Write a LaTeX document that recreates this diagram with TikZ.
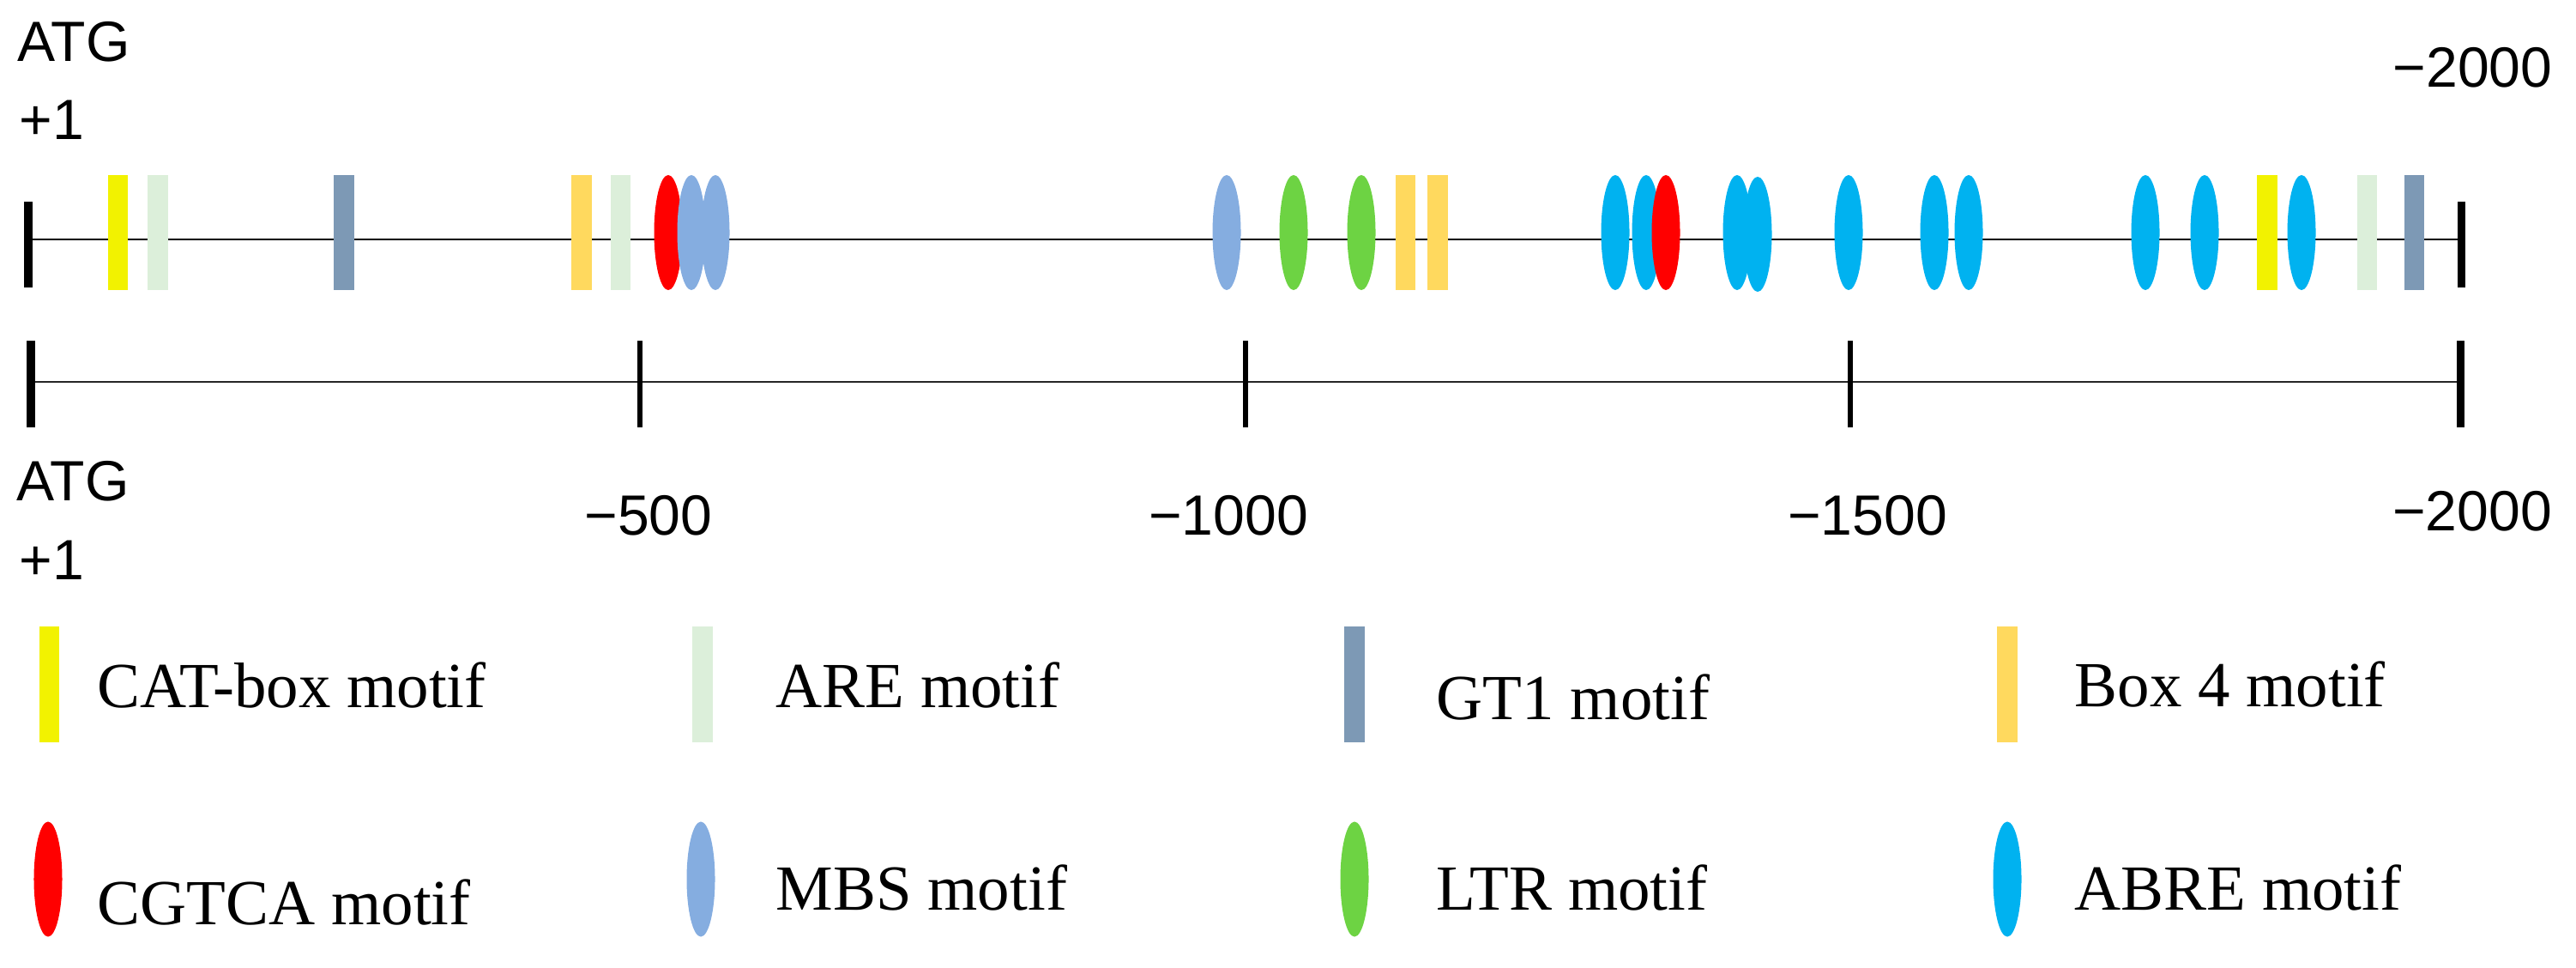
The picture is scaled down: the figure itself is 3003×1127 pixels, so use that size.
\documentclass[tikz,border=0pt]{standalone}
\usepackage{fontspec}
\setmainfont{Liberation Serif}
\newfontfamily\arialf{Liberation Sans}
\usetikzlibrary{shapes.geometric,backgrounds}
\definecolor{catc}{HTML}{F2F200}
\definecolor{arec}{HTML}{DCEFDA}
\definecolor{gtc}{HTML}{7D99B5}
\definecolor{boxc}{HTML}{FFD95E}
\definecolor{cgc}{HTML}{FF0000}
\definecolor{mbsc}{HTML}{85ADE0}
\definecolor{ltrc}{HTML}{6DD343}
\definecolor{abrec}{HTML}{00B2F0}
\begin{document}
\begin{tikzpicture}[x=0.01cm,y=-0.01cm,
 rbox/.style={rectangle,inner sep=0,outer sep=0,minimum width=0.235cm,minimum height=1.34cm,fill=#1},
 ebox/.style={ellipse,inner sep=0,outer sep=0,minimum width=0.33cm,minimum height=1.34cm,fill=#1},
 endbar/.style={rectangle,inner sep=0,outer sep=0,minimum width=0.09cm,minimum height=1.0cm,fill=black},
 midtick/.style={endbar,minimum width=0.055cm},
 num/.style={font=\arialf\fontsize{18.8}{22}\selectfont,inner sep=0},
 leg/.style={font=\fontsize{21.3}{25}\selectfont,inner sep=0,anchor=base west}]
\useasboundingbox (0,0) rectangle (3003,1127);

% main track
\coordinate (ml) at (33,279);
\coordinate (mr) at (2869,279);
\draw[line width=0.5pt] (ml) -- (mr);
\node[endbar] (bl) at (33,285) {};
\node[endbar] (br) at (2869,285) {};

\node[rbox=catc] (m1) at (137.5,271) {};
\node[rbox=arec] (m2) at (184,271) {};
\node[rbox=gtc] (m3) at (401,271) {};
\node[rbox=boxc] (m4) at (678,271) {};
\node[rbox=arec] (m5) at (723.5,271) {};
\node[ebox=cgc] (m6) at (779,271) {};
\node[ebox=mbsc] (m7) at (806,271) {};
\node[ebox=mbsc] (m8) at (834,271) {};
\node[ebox=mbsc] (m9) at (1430,271) {};
\node[ebox=ltrc] (m10) at (1508,271) {};
\node[ebox=ltrc] (m11) at (1587,271) {};
\node[rbox=boxc] (m12) at (1638.5,271) {};
\node[rbox=boxc] (m13) at (1676,271) {};
\node[ebox=abrec] (m14) at (1883,271) {};
\node[ebox=abrec] (m15) at (1919,271) {};
\node[ebox=cgc] (m16) at (1942,271) {};
\node[ebox=abrec] (m17) at (2025,271) {};
\node[ebox=abrec] (m18) at (2049,273) {};
\node[ebox=abrec] (m19) at (2155,271) {};
\node[ebox=abrec] (m20) at (2255,271) {};
\node[ebox=abrec] (m21) at (2295,271) {};
\node[ebox=abrec] (m22) at (2501,271) {};
\node[ebox=abrec] (m23) at (2570,271) {};
\node[rbox=catc] (m24) at (2643,271) {};
\node[ebox=abrec] (m25) at (2683,271) {};
\node[rbox=arec] (m26) at (2759.5,271) {};
\node[rbox=gtc] (m27) at (2814.5,271) {};

% scale
\node[endbar] (t0) at (36,447.5) {};
\node[midtick] (t1) at (746,447.5) {};
\node[midtick] (t2) at (1452,447.5) {};
\node[midtick] (t3) at (2157,447.5) {};
\node[endbar] (t4) at (2868,447.5) {};
\begin{scope}[on background layer]
\draw[line width=0.7pt,black!85] (t0.center |- 0,445) -- (t4.center |- 0,445);
\end{scope}

% labels
\node[num,anchor=base west] (atgT) at (20,71) {ATG};
\node[num,anchor=base west] (p1T) at (22,162) {+1};
\node[num,anchor=base east] (n2000T) at (2976,101) {−2000};
\node[num,anchor=base west] (atgB) at (19,583) {ATG};
\node[num,anchor=base west] (p1B) at (22,675) {+1};
\node[num,anchor=base] (n500) at (756,623) {−500};
\node[num,anchor=base] (n1000) at (1432,623) {−1000};
\node[num,anchor=base] (n1500) at (2177,623) {−1500};
\node[num,anchor=base] (n2000B) at (2882,618) {−2000};

% legend
\node[rbox=catc] (k1) at (57.5,797.5) {};
\node[rbox=arec] (k2) at (819,797.5) {};
\node[rbox=gtc] (k3) at (1579,797.5) {};
\node[rbox=boxc] (k4) at (2340,797.5) {};
\node[ebox=cgc] (k5) at (56,1024.5) {};
\node[ebox=mbsc] (k6) at (817,1024.5) {};
\node[ebox=ltrc] (k7) at (1579,1024.5) {};
\node[ebox=abrec] (k8) at (2340,1024.5) {};
\node[leg] (l1) at (113,824) {CAT-box motif};
\node[leg] (l2) at (904,824) {ARE motif};
\node[leg] (l3) at (1674,838) {GT1 motif};
\node[leg] (l4) at (2418,823) {Box 4 motif};
\node[leg] (l5) at (113,1077) {CGTCA motif};
\node[leg] (l6) at (904,1060) {MBS motif};
\node[leg] (l7) at (1674,1060) {LTR motif};
\node[leg] (l8) at (2418,1060) {ABRE motif};
\end{tikzpicture}
\end{document}
